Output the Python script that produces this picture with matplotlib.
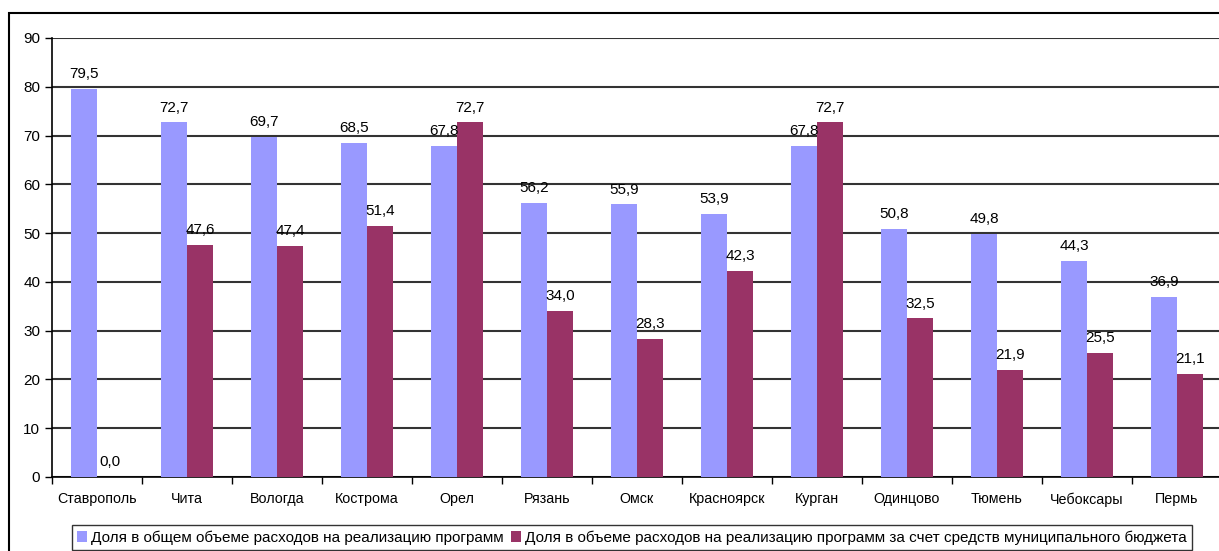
import numpy as np
import matplotlib.pyplot as plt
from matplotlib.patches import Rectangle

cities = ['Ставрополь', 'Чита', 'Вологда', 'Кострома', 'Орел', 'Рязань', 'Омск',
          'Красноярск', 'Курган', 'Одинцово', 'Тюмень', 'Чебоксары', 'Пермь']
share_total = [79.5, 72.7, 69.7, 68.5, 67.8, 56.2, 55.9, 53.9, 67.8, 50.8, 49.8, 44.3, 36.9]
share_municipal = [0.0, 47.6, 47.4, 51.4, 72.7, 34.0, 28.3, 42.3, 72.7, 32.5, 21.9, 25.5, 21.1]
labels = ['Доля в общем объеме расходов на реализацию программ',
          'Доля в объеме расходов на реализацию программ за счет средств муниципального бюджета']

plt.rcParams['font.family'] = ['Liberation Sans', 'DejaVu Sans']

fig = plt.figure(figsize=(12.19, 5.51), dpi=100)
ax = fig.add_axes([52 / 1219, 1 - 477 / 551, 1170 / 1219, 439 / 551])

x = np.arange(len(cities))
w = 0.29
b1 = ax.bar(x - w / 2, share_total, w, color='#9999FF', label=labels[0], zorder=3)
b2 = ax.bar(x + w / 2, share_municipal, w, color='#993366', label=labels[1], zorder=3)

for bars, vals in ((b1, share_total), (b2, share_municipal)):
    for r, v in zip(bars, vals):
        ax.text(r.get_x() + r.get_width() / 2, v + 1.6, f'{v:.1f}'.replace('.', ','),
                ha='center', va='bottom', fontsize=11)

ax.set_xlim(-0.5, len(cities) - 0.5)
ax.set_ylim(0, 90)
ax.set_yticks(range(0, 91, 10))
ax.set_xticks(x)
ax.set_xticklabels(cities, fontsize=10.3)
ax.set_xticks(np.arange(-0.5, len(cities), 1), minor=True)
ax.tick_params(axis='x', which='major', length=0, pad=11)
ax.tick_params(axis='x', which='minor', length=5, width=1, direction='out')
ax.tick_params(axis='y', labelsize=11, length=5, width=1, direction='out')
ax.yaxis.grid(True, color='#333333', linewidth=1.5, zorder=0)
ax.set_axisbelow(True)
for s in ['top', 'right']:
    ax.spines[s].set_visible(False)
ax.spines['left'].set_linewidth(1.2)
ax.spines['bottom'].set_linewidth(1.2)

leg = ax.legend(loc='upper left', bbox_to_anchor=(72 / 1219, 1 - 525 / 551),
                bbox_transform=fig.transFigure, ncol=2, fontsize=11, frameon=True,
                fancybox=False, edgecolor='black', handlelength=0.65, handleheight=0.65,
                handletextpad=0.25, columnspacing=0.5, borderaxespad=0, borderpad=0.35)
leg.get_frame().set_linewidth(1.0)

fig.patches.append(Rectangle((9 / 1219, -0.1), 1.2, 1 - 13 / 551 + 0.1,
                             transform=fig.transFigure, fill=False,
                             edgecolor='black', linewidth=1.5))

fig.savefig('out.png', dpi=100)
